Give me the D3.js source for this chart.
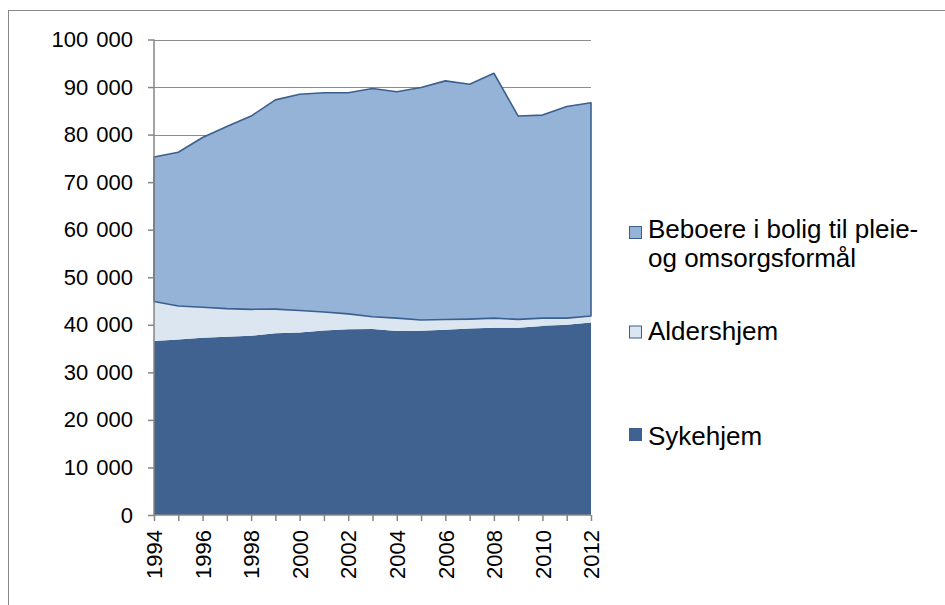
<!DOCTYPE html>
<html>
<head>
<meta charset="utf-8">
<script src="https://cdn.jsdelivr.net/npm/d3@7"></script>
<style>
	body { margin: 0; background: #fff; }
	svg { display: block; font-family: "Liberation Sans", Arial, sans-serif; }
</style>
</head>
<body>
<div id="chart"></div>
<script>
const years = [1994, 1995, 1996, 1997, 1998, 1999, 2000, 2001, 2002, 2003, 2004, 2005, 2006, 2007, 2008, 2009, 2010, 2011, 2012]

const sykehjem = [36600, 36900, 37300, 37500, 37700, 38200, 38400, 38800, 39050, 39100, 38700, 38750, 38950, 39200, 39400, 39400, 39750, 40000, 40500]
const aldershjem = [8300, 7050, 6400, 5900, 5550, 5100, 4600, 3900, 3250, 2600, 2700, 2250, 2150, 2000, 2000, 1750, 1650, 1400, 1350]
const beboere = [30400, 32350, 35700, 38300, 40650, 44000, 45500, 46100, 46500, 48000, 47600, 48900, 50200, 49400, 51500, 42750, 42700, 44500, 44850]

const yTicks = [0, 10000, 20000, 30000, 40000, 50000, 60000, 70000, 80000, 90000, 100000]
const xLabels = [1994, 1996, 1998, 2000, 2002, 2004, 2006, 2008, 2010, 2012]

const keys = ['Sykehjem', 'Aldershjem', 'Beboere']
const legendNames = {
	Beboere: ['Beboere i bolig til pleie-', 'og omsorgsformål'],
	Aldershjem: ['Aldershjem'],
	Sykehjem: ['Sykehjem']
}
const colors = { Sykehjem: '#3f6290', Aldershjem: '#dce6f1', Beboere: '#95b3d7' }

const width = 945, height = 605

const rows = years.map((y, i) => ({ year: y, Sykehjem: sykehjem[i], Aldershjem: aldershjem[i], Beboere: beboere[i] }))

let svg = d3.select('#chart')
	.append('svg')
	.attr('width', width)
	.attr('height', height)

// outer chart border (runs off the right/bottom edge)
svg.append('rect')
	.attr('x', 8.5).attr('y', 10.5)
	.attr('width', width).attr('height', height)
	.attr('fill', 'none')
	.attr('stroke', '#888')

let xScale = d3.scaleLinear()
	.domain([1994, 2012])
	.range([154, 591])

let yScale = d3.scaleLinear()
	.domain([0, 100000])
	.range([515, 39.5])

// gridlines
svg.selectAll('.grid')
	.data(yTicks.filter(d => d > 0))
	.join('line')
	.attr('x1', 154).attr('x2', 591)
	.attr('y1', d => Math.round(yScale(d)) + 0.5)
	.attr('y2', d => Math.round(yScale(d)) + 0.5)
	.attr('stroke', '#8c8c8c')
	.attr('stroke-width', 1.2)

const stacked = d3.stack().keys(keys)(rows)

let area = d3.area()
	.x(d => xScale(d.data.year))
	.y0(d => yScale(d[0]))
	.y1(d => yScale(d[1]))

svg.selectAll('.layer')
	.data(stacked)
	.join('path')
	.attr('d', area)
	.attr('fill', d => colors[d.key])
	.attr('stroke', d => d.key == 'Beboere' ? '#3b5f8f' : 'none')
	.attr('stroke-width', 1.6)
	.attr('stroke-linejoin', 'round')

// y axis
let yAxis = d3.axisLeft(yScale)
	.tickValues(yTicks)
	.tickSize(6)
	.tickPadding(15)
	.tickFormat(d => d3.format(',')(d).replace(/,/g, ' '))

let gy = svg.append('g')
	.attr('transform', 'translate(154,0)')
	.call(yAxis)
gy.select('.domain').attr('stroke', '#868686').attr('stroke-width', 1.5).attr('d', 'M0,39.5V515')
gy.selectAll('.tick line').attr('stroke', '#868686').attr('stroke-width', 1.5)
gy.selectAll('.tick text')
	.attr('font-size', 22)
	.attr('word-spacing', '2px')
	.attr('fill', '#000')
	.attr('font-family', '"Liberation Sans", Arial, sans-serif')

// x axis
let xAxis = d3.axisBottom(xScale)
	.tickValues(years)
	.tickSize(6)
	.tickFormat(d => xLabels.includes(d) ? d : '')

let gx = svg.append('g')
	.attr('transform', 'translate(0,515)')
	.call(xAxis)
gx.select('.domain').attr('stroke', '#868686').attr('stroke-width', 1.5).attr('d', 'M154,0H591')
gx.selectAll('.tick line').attr('stroke', '#868686').attr('stroke-width', 1.5)
gx.selectAll('.tick text')
	.attr('font-size', 22)
	.attr('fill', '#000')
	.attr('font-family', '"Liberation Sans", Arial, sans-serif')
	.attr('transform', 'rotate(-90)')
	.attr('text-anchor', 'end')
	.attr('x', -15)
	.attr('y', 0)
	.attr('dy', '0.35em')

// legend
const legendItems = [
	{ key: 'Beboere', sq: 226.5, base: 238 },
	{ key: 'Aldershjem', sq: 326, base: 340 },
	{ key: 'Sykehjem', sq: 428.5, base: 445 }
]

let legend = svg.selectAll('.legend')
	.data(legendItems)
	.join('g')

legend.append('rect')
	.attr('x', 629.5)
	.attr('y', d => d.sq)
	.attr('width', 12)
	.attr('height', 12)
	.attr('fill', d => colors[d.key])
	.attr('stroke', '#3b5f8f')
	.attr('stroke-width', 1)

legend.append('text')
	.attr('x', 648)
	.attr('y', d => d.base)
	.attr('font-size', 26)
	.attr('fill', '#000')
	.selectAll('tspan')
	.data(d => legendNames[d.key])
	.join('tspan')
	.attr('x', 648)
	.attr('dy', (d, i) => i == 0 ? 0 : 29)
	.text(d => d)
</script>
</body>
</html>
